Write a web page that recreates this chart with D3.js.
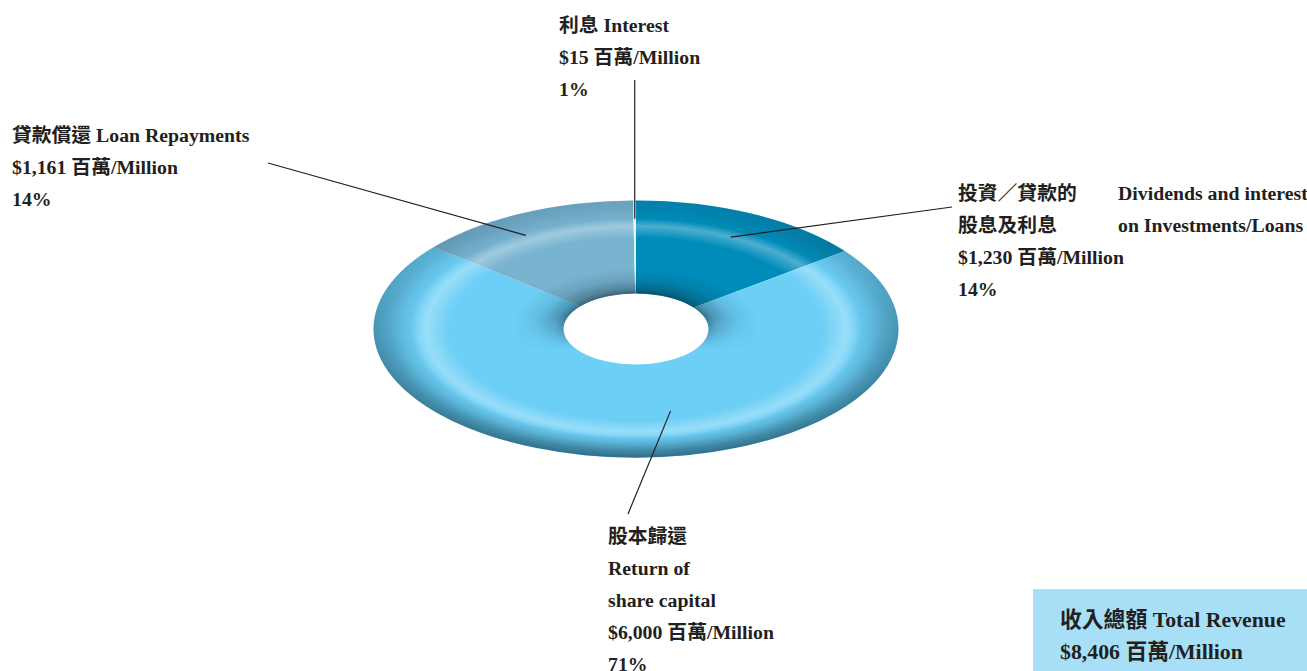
<!DOCTYPE html>
<html lang="zh-Hant">
<head>
<meta charset="UTF-8" />
<title>Revenue donut</title>
<script src="https://d3js.org/d3.v7.min.js"></script>
<style>
  html, body { margin: 0; padding: 0; background: #fff; }
  svg { display: block; }
  text {
    font-family: "Liberation Serif", "Noto Sans CJK TC", serif;
    font-weight: bold;
    fill: #231f20;
  }
</style>
</head>
<body>
<svg id="chart" width="1307" height="671"></svg>
<script>
// data
const categories = ["dividends", "share", "loan", "interest"];
const zhNames = ["投資／貸款的", "股本歸還", "貸款償還", "利息"];
const enNames = ["Dividends and interest", "Return of", "Loan Repayments", "Interest"];
const values = [1230, 6000, 1161, 15];
const percents = ["14%", "71%", "14%", "1%"];
const colors = ["#008cba", "#6dcff6", "#78b3d0", "#dff2fb"];

const svg = d3.select("#chart");
const W = 1307, H = 671;
const cx = 636, cy = 329;
const R = 262.5, r0 = 72.5, tilt = 0.49;

const fmt = d3.format(",");
const money = v => "$" + fmt(v) + " 百萬/Million";

const pie = d3.pie().sort(null).value(d => d);
const arcs = pie(values);
const arc = d3.arc().innerRadius(r0).outerRadius(R);
const ring = d3.arc().innerRadius(r0).outerRadius(R).startAngle(0).endAngle(2 * Math.PI);

const defs = svg.append("defs");

// shading for the ring
const glow = defs.append("radialGradient")
  .attr("id", "glow").attr("gradientUnits", "userSpaceOnUse")
  .attr("cx", 0).attr("cy", 0).attr("r", R);
[[0, 0], [0.71, 0], [0.80, 0.3], [0.86, 0], [1, 0]]
  .forEach(s => glow.append("stop").attr("offset", s[0]).attr("stop-color", "#fff").attr("stop-opacity", s[1]));

const inner = defs.append("radialGradient")
  .attr("id", "innerShade").attr("gradientUnits", "userSpaceOnUse")
  .attr("cx", 0).attr("cy", 0).attr("r", R);
[[0.276, 0.75], [0.31, 0.45], [0.38, 0.15], [0.47, 0]]
  .forEach(s => inner.append("stop").attr("offset", s[0]).attr("stop-color", "#0b2a38").attr("stop-opacity", s[1]));

const outer = defs.append("radialGradient")
  .attr("id", "outerShade").attr("gradientUnits", "userSpaceOnUse")
  .attr("cx", 0).attr("cy", 0).attr("r", R);
[[0.83, 0], [0.89, 0.2], [0.95, 0.5], [1, 0.65]]
  .forEach(s => outer.append("stop").attr("offset", s[0]).attr("stop-color", "#0e3a4c").attr("stop-opacity", s[1]));

// masks: inner shadow at top, outer rim darker at bottom
const mTop = defs.append("linearGradient").attr("id", "mTopG").attr("x1", 0).attr("y1", 0).attr("x2", 0).attr("y2", 1);
mTop.append("stop").attr("offset", 0).attr("stop-color", "#fff");
mTop.append("stop").attr("offset", 0.45).attr("stop-color", "#bbb");
mTop.append("stop").attr("offset", 0.58).attr("stop-color", "#000");
const mBot = defs.append("linearGradient").attr("id", "mBotG").attr("x1", 0).attr("y1", 0).attr("x2", 0).attr("y2", 1);
mBot.append("stop").attr("offset", 0).attr("stop-color", "#333");
mBot.append("stop").attr("offset", 0.5).attr("stop-color", "#999");
mBot.append("stop").attr("offset", 1).attr("stop-color", "#fff");

[["mTop", "mTopG"], ["mBot", "mBotG"]].forEach(([id, grad]) => {
  defs.append("mask").attr("id", id).attr("maskUnits", "userSpaceOnUse")
    .attr("x", -R - 5).attr("y", -R - 5).attr("width", 2 * R + 10).attr("height", 2 * R + 10)
    .append("rect").attr("x", -R - 5).attr("y", -R - 5).attr("width", 2 * R + 10).attr("height", 2 * R + 10)
    .attr("fill", `url(#${grad})`);
});

const g = svg.append("g").attr("transform", `translate(${cx},${cy}) scale(1,${tilt})`);

g.selectAll("path.slice")
  .data(arcs)
  .join("path")
  .attr("class", "slice")
  .attr("d", arc)
  .attr("fill", (d, i) => colors[i]);

g.append("path").attr("d", ring).attr("fill", "url(#glow)");
g.append("path").attr("d", ring).attr("fill", "url(#innerShade)").attr("mask", "url(#mTop)");
g.append("path").attr("d", ring).attr("fill", "url(#outerShade)").attr("mask", "url(#mBot)");

// point on the tilted ring
function ringPoint(d, t, rf) {
  const a = d.startAngle + t * (d.endAngle - d.startAngle);
  return [cx + R * rf * Math.sin(a), cy - R * rf * Math.cos(a) * tilt];
}

// label layout: x, first baseline, leader start, where the leader meets the ring
const lineH = 32;
const labelLayout = [
  { x: 958, y: 200, x2: 1118, from: [952, 207], t: 0.51, rf: 0.80 },
  { x: 608, y: 543, from: [628, 514], t: 0.45, rf: 0.65 },
  { x: 12, y: 142, from: [268, 163], t: 0.41, rf: 0.84 },
  { x: 559, y: 32, from: [null, 80], t: 0.5, rf: 0.857 }
];

const labels = svg.append("g").attr("font-size", 19.8);

categories.forEach((c, i) => {
  const L = labelLayout[i];
  let rows;
  if (c === "dividends") {
    rows = [zhNames[i], "股息及利息", money(values[i]), percents[i]];
    labels.append("text").attr("x", L.x2).attr("y", L.y).text(enNames[i]);
    labels.append("text").attr("x", L.x2).attr("y", L.y + lineH).text("on Investments/Loans");
  } else if (c === "share") {
    rows = [zhNames[i], enNames[i], "share capital", money(values[i]), percents[i]];
  } else {
    rows = [zhNames[i] + " " + enNames[i], money(values[i]), percents[i]];
  }
  rows.forEach((s, k) => {
    labels.append("text").attr("x", L.x).attr("y", L.y + k * lineH).text(s);
  });
  const p = ringPoint(arcs[i], L.t, L.rf);
  const x1 = L.from[0] == null ? p[0] : L.from[0];
  svg.append("line")
    .attr("x1", x1).attr("y1", L.from[1])
    .attr("x2", p[0]).attr("y2", p[1])
    .attr("stroke", "#231f20").attr("stroke-width", 1.2);
});

// total box
const total = d3.sum(values);
const box = svg.append("g").attr("font-size", 21.8);
box.append("rect").attr("x", 1033).attr("y", 589).attr("width", W - 1033).attr("height", H - 589)
  .attr("fill", "#a7dff7");
box.append("text").attr("x", 1060).attr("y", 627).text("收入總額 Total Revenue");
box.append("text").attr("x", 1060).attr("y", 659).text(money(total));
</script>
</body>
</html>
